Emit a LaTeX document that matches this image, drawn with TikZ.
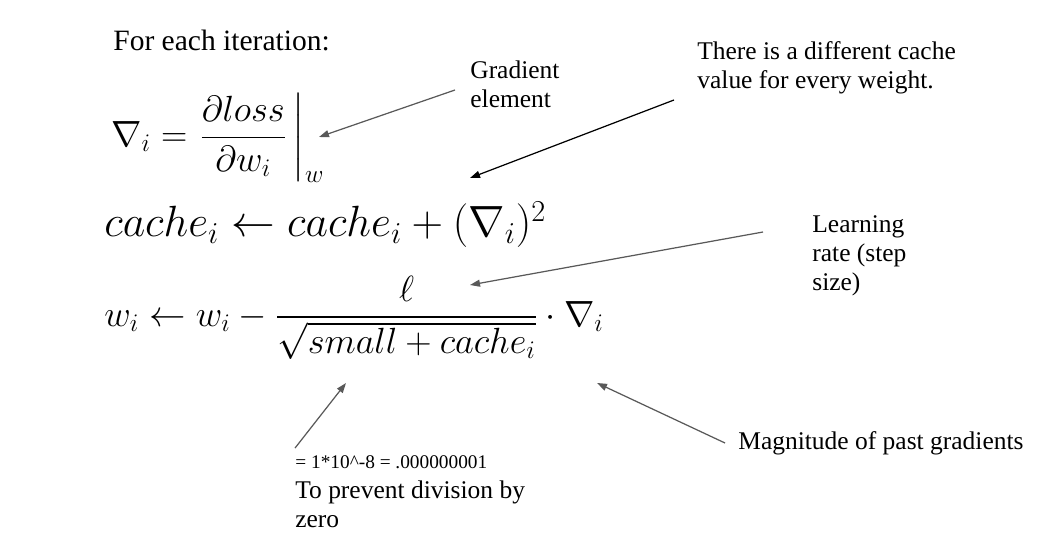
\documentclass[tikz,border=0pt]{standalone}
\usepackage{amsmath,fontspec}
\setmainfont{Liberation Serif}
\usetikzlibrary{arrows.meta}
\tikzset{
  note/.style={anchor=west,inner sep=0pt,align=left,font=\fontsize{14.5}{16.4}\selectfont},
  formula/.style={anchor=west,inner sep=0pt,font=\fontsize{20}{24}\selectfont},
  pointer/.style={draw=gray!70!black,line width=0.7pt,-{Triangle[length=2mm,width=1.4mm]}}
}

\begin{document}
\begin{tikzpicture}[x=0.2mm,y=-0.2mm]
\useasboundingbox (0,0) rectangle (1044,538);
\node[note,font=\fontsize{16.8}{20}\selectfont] (title) at (113,40) {For each iteration:};
\node[formula] (grad) at (111,138) {$\displaystyle \nabla_i = \left.\frac{\partial loss}{\partial w_i}\,\right|_{w}$};
\node[formula,anchor=base west,font=\fontsize{25.5}{30}\selectfont] (cache) at (104,237) {$cache_i \leftarrow cache_i + (\nabla_i)^2$};
\node[formula,font=\fontsize{20.6}{24}\selectfont] (update) at (104,318) {$\displaystyle w_i \leftarrow w_i - \frac{\ell}{\sqrt{small + cache_i}} \cdot \nabla_i$};
\node[note] (gradnote) at (470,84) {Gradient\\element};
\node[note] (cachenote) at (697,68) {There is a different cache\\value for every weight.};
\node[note] (lrnote) at (812,256) {Learning\\rate (step\\size)};
\node[note,font=\fontsize{11}{13}\selectfont] (smallnote) at (295,462) {= 1*10\textasciicircum-8 = .000000001};
\node[note] (zeronote) at (295,504) {To prevent division by\\zero};
\node[note] (magnote) at (738,443) {Magnitude of past gradients};
\coordinate (gradtip) at (319,137);
\coordinate (cachetip) at (470,178);
\coordinate (lrtip) at (470,285);
\coordinate (smalltip) at (346,383);
\coordinate (magtip) at (597,383);
\draw[pointer] ([xshift=-3mm,yshift=-1.2mm]gradnote.west) -- (gradtip);
\draw[pointer,draw=black] ([xshift=-4.6mm,yshift=-6.4mm]cachenote.west) -- (cachetip);
\draw[pointer] ([xshift=-9.8mm,yshift=4.8mm]lrnote.west) -- (lrtip);
\draw[pointer] ([yshift=1.4mm]smallnote.north west) -- (smalltip);
\draw[pointer] ([xshift=-2.6mm]magnote.west) -- (magtip);
\end{tikzpicture}
\end{document}
